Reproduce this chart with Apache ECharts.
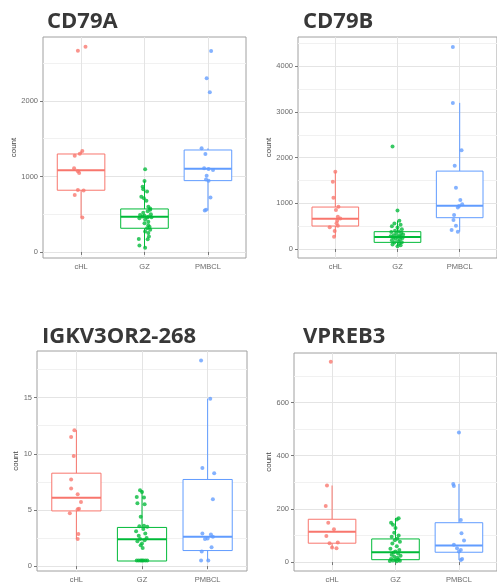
<!DOCTYPE html>
<html><head><meta charset="utf-8">
<script src="https://cdn.jsdelivr.net/npm/echarts@6/dist/echarts.min.js"></script>
<style>html,body{margin:0;padding:0;background:#fff}#c{width:497px;height:584px}</style>
</head><body><div id="c"></div>
<script>
// ---------- data ----------
const categories = ['cHL', 'GZ', 'PMBCL'];
const titles = ['CD79A', 'CD79B', 'IGKV3OR2-268', 'VPREB3'];

// y tick labels (major) and minor grid values
const ticksCD79A = [0, 1000, 2000];
const ticksCD79B = [0, 1000, 2000, 3000, 4000];
const ticksIGKV = [0, 5, 10, 15];
const ticksVPREB3 = [0, 200, 400, 600];
const minorCD79A = [500, 1500, 2500];
const minorCD79B = [500, 1500, 2500, 3500, 4500];
const minorIGKV = [2.5, 7.5, 12.5, 17.5];
const minorVPREB3 = [100, 300, 500, 700];

// box stats per category: [lower whisker, Q1, median, Q3, upper whisker]
const boxCD79A = [[455, 818, 1082, 1298, 1338], [57, 314, 468, 570, 940], [548, 945, 1104, 1351, 1373]];
const boxCD79B = [[270, 503, 663, 918, 1690], [60, 145, 265, 379, 620], [380, 685, 947, 1705, 3198]];
const boxIGKV = [[2.42, 4.91, 6.09, 8.27, 12.1], [0.45, 0.45, 2.38, 3.44, 6.74], [0.5, 1.38, 2.62, 7.71, 14.9]];
const boxVPREB3 = [[52, 71, 114, 161, 288], [3, 9, 37, 87, 165], [8, 37, 62, 148, 294]];

// individual sample counts per category
const valsCD79A = [
  [2720, 2666, 1338, 1300, 1275, 1108, 1068, 1045, 821, 815, 755, 455],
  [1095, 940, 865, 830, 800, 733, 710, 680, 600, 575, 560, 540, 520, 500, 490, 480, 470, 465, 460, 455, 445, 430, 400, 380, 355, 330, 315, 295, 270, 250, 205, 172, 170, 84, 57],
  [2662, 2300, 2115, 1373, 1298, 1110, 1100, 1085, 1010, 960, 945, 720, 560, 548]
];
const valsCD79B = [
  [1690, 1471, 1122, 925, 852, 706, 670, 620, 561, 510, 474, 393, 270],
  [2245, 845, 620, 560, 530, 500, 470, 430, 400, 385, 370, 350, 335, 320, 300, 290, 280, 270, 260, 250, 240, 225, 210, 190, 170, 150, 140, 120, 100, 80, 60],
  [4422, 3198, 2164, 1821, 1340, 1071, 980, 940, 910, 743, 634, 510, 415, 380]
];
const valsIGKV = [
  [12.1, 11.5, 9.8, 7.7, 6.9, 6.4, 5.7, 5.1, 5.05, 4.7, 2.86, 2.42],
  [6.74, 6.6, 6.15, 6.1, 5.6, 5.5, 4.38, 3.6, 3.55, 3.5, 3.3, 3.1, 2.9, 2.7, 2.5, 2.4, 2.3, 2.2, 2.0, 1.85, 1.6, 0.5, 0.5, 0.5, 0.5, 0.5, 0.5, 0.5],
  [18.3, 14.9, 8.74, 8.27, 5.94, 2.91, 2.82, 2.45, 2.4, 2.6, 1.68, 1.3, 0.5, 0.5]
];
const valsVPREB3 = [
  [753, 288, 211, 148, 123, 98, 71, 74, 55, 52],
  [165, 160, 148, 140, 128, 110, 100, 95, 88, 82, 76, 70, 60, 50, 45, 40, 36, 32, 28, 24, 20, 16, 12, 10, 8, 6, 5, 4, 3],
  [487, 294, 286, 158, 108, 81, 65, 52, 45, 40, 12, 8]
];

// horizontal jitter of each point (category units)
const jitCD79A = [
  [0.07, -0.05, 0.02, -0.02, -0.10, -0.11, -0.05, -0.03, -0.05, 0.04, -0.10, 0.02],
  [0.01, 0.0, -0.03, -0.02, 0.04, -0.05, -0.01, 0.03, 0.06, 0.09, 0.09, 0.05, -0.02, 0.10, -0.07, 0.0, -0.03, 0.06, 0.11, 0.04, -0.08, 0.01, 0.06, 0.0, 0.06, 0.08, 0.04, 0.09, 0.01, 0.06, 0.07, -0.09, 0.05, -0.08, 0.01],
  [0.05, -0.02, 0.03, -0.10, -0.04, -0.06, 0.01, 0.08, -0.02, -0.03, 0.01, 0.04, -0.03, -0.05]
];
const jitCD79B = [
  [0.0, -0.04, -0.03, 0.05, 0.01, 0.04, 0.08, 0.03, 0.02, 0.04, -0.09, -0.01, -0.02],
  [-0.08, 0.0, 0.03, -0.05, 0.05, -0.09, 0.0, 0.07, -0.04, 0.02, -0.10, 0.06, -0.02, 0.09, -0.06, 0.03, -0.11, 0.05, 0.0, -0.07, 0.08, -0.03, 0.04, -0.09, 0.01, 0.07, -0.05, 0.03, -0.08, 0.05, 0.0],
  [-0.11, -0.11, 0.03, -0.08, -0.06, 0.01, 0.04, -0.01, -0.03, -0.09, -0.10, -0.06, -0.13, -0.03]
];
const jitIGKV = [
  [-0.03, -0.08, -0.04, -0.08, -0.08, 0.02, 0.07, 0.04, 0.02, -0.10, 0.03, 0.02],
  [-0.03, 0.0, -0.08, 0.03, -0.07, 0.04, -0.02, 0.03, -0.04, 0.08, 0.02, -0.09, 0.05, -0.05, 0.07, -0.03, 0.04, -0.07, 0.0, -0.02, 0.01, -0.08, -0.05, -0.02, 0.0, 0.02, 0.05, 0.08],
  [-0.10, 0.04, -0.08, 0.10, 0.08, -0.08, 0.05, 0.0, -0.04, 0.08, 0.06, -0.09, -0.10, 0.01]
];
const jitVPREB3 = [
  [-0.02, -0.08, -0.10, -0.06, 0.03, -0.09, -0.04, 0.09, 0.0, 0.07],
  [0.05, 0.02, -0.07, -0.04, 0.0, -0.02, 0.05, -0.06, 0.03, -0.01, 0.07, -0.05, 0.02, -0.08, 0.06, 0.0, -0.03, 0.04, -0.06, 0.08, -0.02, 0.03, -0.07, 0.05, 0.0, -0.04, 0.07, -0.09, 0.02],
  [0.0, -0.09, -0.08, 0.03, 0.04, 0.08, -0.08, -0.03, 0.03, 0.0, 0.05, 0.03]
];

// ---------- layout / style ----------
const colors = ['#F8766D', '#00BA38', '#619CFF'];
const panels = [
  { title: titles[0], ticks: ticksCD79A, minor: minorCD79A, box: boxCD79A, vals: valsCD79A, jit: jitCD79A,
    grid: { left: 43, top: 37, width: 203, height: 221 }, yMin: -80, yMax: 2848, nameGap: 21, tl: 47, tt: 11 },
  { title: titles[1], ticks: ticksCD79B, minor: minorCD79B, box: boxCD79B, vals: valsCD79B, jit: jitCD79B,
    grid: { left: 298, top: 37, width: 202, height: 221 }, yMin: -197, yMax: 4640, nameGap: 21, tl: 303, tt: 11 },
  { title: titles[2], ticks: ticksIGKV, minor: minorIGKV, box: boxIGKV, vals: valsIGKV, jit: jitIGKV,
    grid: { left: 37, top: 351, width: 210, height: 222 }, yMin: -0.44, yMax: 19.15, nameGap: 17, tl: 42, tt: 326 },
  { title: titles[3], ticks: ticksVPREB3, minor: minorVPREB3, box: boxVPREB3, vals: valsVPREB3, jit: jitVPREB3,
    grid: { left: 294, top: 353, width: 206, height: 220 }, yMin: -33.5, yMax: 786, nameGap: 19, tl: 303, tt: 326 }
];

const labelStyle = { fontSize: 7.5, color: '#6a6a6a', fontFamily: 'Liberation Sans' };
const tickStyle = { color: '#777', width: 1 };

function renderBox(params, api) {
  const x = api.value(0);
  const lo = api.coord([x, api.value(1)]);
  const q1 = api.coord([x, api.value(2)]);
  const md = api.coord([x, api.value(3)]);
  const q3 = api.coord([x, api.value(4)]);
  const hi = api.coord([x, api.value(5)]);
  const w = api.size([0.75, 0])[0];
  const c = api.visual('color');
  return {
    type: 'group',
    children: [
      { type: 'line', shape: { x1: lo[0], y1: lo[1], x2: q1[0], y2: q1[1] }, style: { stroke: c, lineWidth: 1 } },
      { type: 'line', shape: { x1: q3[0], y1: q3[1], x2: hi[0], y2: hi[1] }, style: { stroke: c, lineWidth: 1 } },
      { type: 'rect', shape: { x: q1[0] - w / 2, y: q3[1], width: w, height: q1[1] - q3[1] }, style: { fill: '#fff', stroke: c, lineWidth: 1 } },
      { type: 'line', shape: { x1: md[0] - w / 2, y1: md[1], x2: md[0] + w / 2, y2: md[1] }, style: { stroke: c, lineWidth: 2 } }
    ]
  };
}

const option = { animation: false, backgroundColor: '#fff', title: [], grid: [], xAxis: [], yAxis: [], series: [] };

panels.forEach((p, i) => {
  option.title.push({
    text: p.title, left: p.tl, top: p.tt, padding: 0,
    textStyle: { fontFamily: 'Open Sans', fontWeight: 'bold', fontSize: 22, color: '#383838' }
  });
  option.grid.push(Object.assign({ show: true, borderColor: '#a0a0a0', borderWidth: 1, backgroundColor: '#fff' }, p.grid));
  option.xAxis.push({
    type: 'value', gridIndex: i, min: 0.4, max: 3.6,
    axisLine: { show: false },
    axisTick: { show: true, length: 3, customValues: [1, 2, 3], lineStyle: tickStyle },
    axisLabel: Object.assign({ customValues: [1, 2, 3], margin: 5, formatter: v => categories[Math.round(v) - 1] }, labelStyle),
    splitLine: { show: true, lineStyle: { color: '#e4e4e4', width: 1 } }
  });
  option.yAxis.push({
    type: 'value', gridIndex: i, min: p.yMin, max: p.yMax,
    name: 'count', nameLocation: 'middle', nameGap: p.nameGap,
    nameTextStyle: { fontSize: 8, color: '#444', fontFamily: 'Liberation Sans' },
    axisLine: { show: false },
    axisTick: { show: true, length: 3, customValues: p.ticks, lineStyle: tickStyle },
    axisLabel: Object.assign({ customValues: p.ticks, margin: 5, formatter: v => String(v) }, labelStyle),
    splitLine: { show: true, lineStyle: { color: '#e4e4e4', width: 1 } }
  });
  option.yAxis.push({
    type: 'value', gridIndex: i, min: p.yMin, max: p.yMax, position: 'left',
    axisLine: { show: false },
    axisTick: { show: false, customValues: p.minor },
    axisLabel: { show: false, customValues: p.minor },
    splitLine: { show: true, lineStyle: { color: '#f1f1f1', width: 1 } }
  });
  option.series.push({
    type: 'custom', xAxisIndex: i, yAxisIndex: 2 * i, z: 2,
    renderItem: renderBox,
    encode: { x: 0, y: [1, 2, 3, 4, 5] },
    data: p.box.map((b, k) => ({ value: [k + 1].concat(b), itemStyle: { color: colors[k] } }))
  });
  categories.forEach((cat, k) => {
    option.series.push({
      type: 'scatter', name: cat, xAxisIndex: i, yAxisIndex: 2 * i, z: 3,
      symbolSize: 4,
      itemStyle: { color: colors[k], opacity: 0.78 },
      data: p.vals[k].map((v, j) => [k + 1 + p.jit[k][j], v])
    });
  });
});

const chart = echarts.init(document.getElementById('c'), null, { renderer: 'canvas' });
chart.setOption(option);
</script>
</body></html>
